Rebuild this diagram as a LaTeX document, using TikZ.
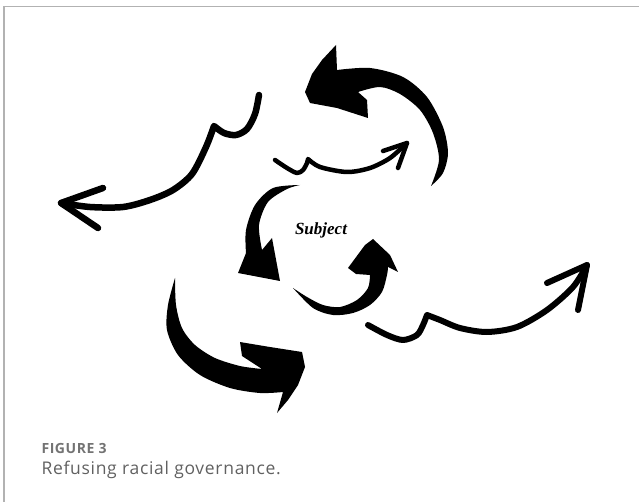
\documentclass[tikz,border=0pt]{standalone}
\usepackage{fontspec}
\setmainfont{Liberation Serif}
\newfontfamily\capfont{Open Sans}[LetterSpace=4]
\usepackage{tikz}
\usetikzlibrary{calc,positioning}

\tikzset{
  brush/.style={line width=#1, line cap=round, line join=round},
  frameline/.style={black!30, line width=1.3pt},
}

\begin{document}
\begin{tikzpicture}[x=1pt, y=-1pt]
\useasboundingbox (0,0) rectangle (639,502);
% --- cornice ---
\draw[frameline] (3,6.5) -- (639,6.5);
\draw[frameline] (4,6) -- (4,502);

% --- frecce sottili ---
\draw[brush=6.5pt] plot[smooth] coordinates {(259,95) (255,114) (247,129) (236,135) (224,133) (214,126)}
  -- plot[smooth] coordinates {(214,126) (206,147) (192,174) (173,190) (150,200) (123,207) (90,207) (61,203)};
\draw[brush=6.5pt] (103,188) -- (61,203) -- (98,228);

\draw[brush=4.5pt] plot[smooth] coordinates {(275,160) (287,168) (297,173) (303,170) (307,163) (308,159)}
  -- plot[smooth] coordinates {(308,159) (320,167) (347,172) (370,168) (390,158) (407,143)};
\draw[brush=4.5pt] (383,151) -- (407,143) -- (398,168);

\draw[brush=6pt] plot[smooth] coordinates {(368,325) (387,335) (403,340) (417,335) (423,325) (427,315)}
  -- plot[smooth] coordinates {(427,315) (440,320) (460,328) (487,332) (517,327) (547,310) (573,287) (587,265)};
\draw[brush=6pt] (547,283) -- (587,265) -- (578,310);

% --- frecce spesse ---
\fill plot[smooth] coordinates {(431,186) (443,173) (448,153) (443,127) (427,97) (403,77) (370,68) (337,70)}
  -- (336,45) -- (322,60) -- (312,74) -- (305,92) -- (310,103) -- (337,108) -- (368,118) -- (367,100) -- (358,92)
  -- plot[smooth] coordinates {(358,92) (380,87) (400,94) (420,110) (433,133) (439,160) (431,186)} -- cycle;

\fill plot[smooth] coordinates {(300,185) (273,188) (255,205) (246,230) (246,253)}
  -- (238,273) -- (280,281) -- (272,238) -- (262,250)
  -- plot[smooth] coordinates {(262,250) (259,225) (268,202) (287,189) (300,185)} -- cycle;

\fill plot[smooth] coordinates {(293,288) (313,308) (333,315) (353,313) (370,305) (382,292) (387,275) (388,267)}
  -- (398,272) -- (390,255) -- (373,239) -- (365,245) -- (348,268) -- (356,274) -- (370,275)
  -- plot[smooth] coordinates {(370,275) (368,288) (357,300) (340,307) (323,305) (307,297) (293,288)} -- cycle;

\fill plot[smooth] coordinates {(175,278) (168,305) (167,330) (178,355) (200,375) (230,388) (260,393) (283,392)}
  -- (277,413) -- (288,400) -- (298,385) -- (305,367) -- (302,352) -- (270,347) -- (240,342) -- (242,356) -- (262,369)
  -- plot[smooth] coordinates {(262,369) (240,366) (215,358) (195,345) (182,328) (176,305) (175,278)} -- cycle;

% --- testi ---
\node[font=\bfseries\itshape\fontsize{17}{20}\selectfont] (subj) at (321,230) {Subject};
\node[anchor=base west, text=black!55, font=\capfont\bfseries\fontsize{14}{16}\selectfont] (fig) at (38,453) {FIGURE 3};
\node[anchor=base west, text=black!62, font=\capfont\fontsize{17.5}{20}\selectfont] (cap) at (38,474) {Refusing racial governance.};
\end{tikzpicture}
\end{document}
